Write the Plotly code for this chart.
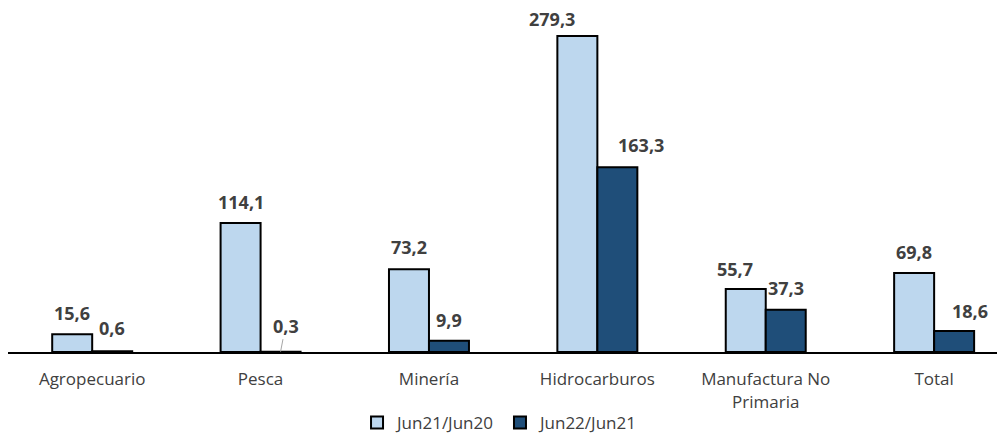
import plotly.graph_objects as go

categories = ["Agropecuario", "Pesca", "Minería", "Hidrocarburos", "Manufactura No<br>Primaria", "Total"]
series_names = ["Jun21/Jun20", "Jun22/Jun21"]
jun21_jun20 = [15.6, 114.1, 73.2, 279.3, 55.7, 69.8]
jun22_jun21 = [0.6, 0.3, 9.9, 163.3, 37.3, 18.6]

# label placement tweaks (pixels), style only
light_xshift = [0, 0, 0, -25, -11, 0]
light_yshift = [21, 21, 22, 17, 20, 21]
dark_xshift = [0, 0, 0, 24, 0, 16]
dark_yshift = [23, 0, 21, 22, 22, 20]

LIGHT = "#BDD7EE"
DARK = "#1F4E79"
TXT = "#404040"
FONT = "Open Sans"
LBL = dict(family=FONT, size=18, color=TXT, weight="bold")

fig = go.Figure()
fig.add_trace(go.Bar(x=categories, y=jun21_jun20, name=series_names[0],
                     marker=dict(color=LIGHT, line=dict(color="#000000", width=2))))
fig.add_trace(go.Bar(x=categories, y=jun22_jun21, name=series_names[1],
                     marker=dict(color=DARK, line=dict(color="#000000", width=2))))

def fmt(v):
    return f"{v:.1f}".replace(".", ",")

annotations = []
for i, c in enumerate(categories):
    annotations.append(dict(x=i, y=jun21_jun20[i], xref="x", yref="y", text=fmt(jun21_jun20[i]),
                            showarrow=False, xshift=-20 + light_xshift[i], yshift=light_yshift[i],
                            yanchor="middle", font=LBL))
    if i == 1:
        annotations.append(dict(x=i, y=jun22_jun21[i], xref="x", yref="y", text=fmt(jun22_jun21[i]),
                                showarrow=True, arrowhead=0, arrowwidth=1, arrowcolor="#A6A6A6",
                                xshift=20, ax=5, ay=-26, standoff=0, font=LBL))
    else:
        annotations.append(dict(x=i, y=jun22_jun21[i], xref="x", yref="y", text=fmt(jun22_jun21[i]),
                                showarrow=False, xshift=20 + dark_xshift[i], yshift=dark_yshift[i],
                                yanchor="middle", font=LBL))

fig.update_layout(
    width=997, height=429,
    margin=dict(l=0, r=2, t=2, b=85, autoexpand=False),
    paper_bgcolor="white", plot_bgcolor="white",
    barmode="group", bargap=0.525, bargroupgap=0,
    showlegend=True,
    legend=dict(orientation="h", x=0.4945, xanchor="center", y=-0.2076, yanchor="middle",
                font=dict(family=FONT, size=17, color=TXT), traceorder="normal",
                itemwidth=30, tracegroupgap=0),
    annotations=annotations,
    font=dict(family=FONT, color=TXT),
)
fig.update_xaxes(type="category", range=[-0.5, 5.409], showline=True, linecolor="#000000", linewidth=2,
                 ticks="", showgrid=False, tickfont=dict(family=FONT, size=17, color=TXT),
                 ticklabelstandoff=11, automargin=False, fixedrange=True)
fig.update_yaxes(range=[0, 302.4], visible=False, showgrid=False, zeroline=False, fixedrange=True)

fig.write_html("out.html")
